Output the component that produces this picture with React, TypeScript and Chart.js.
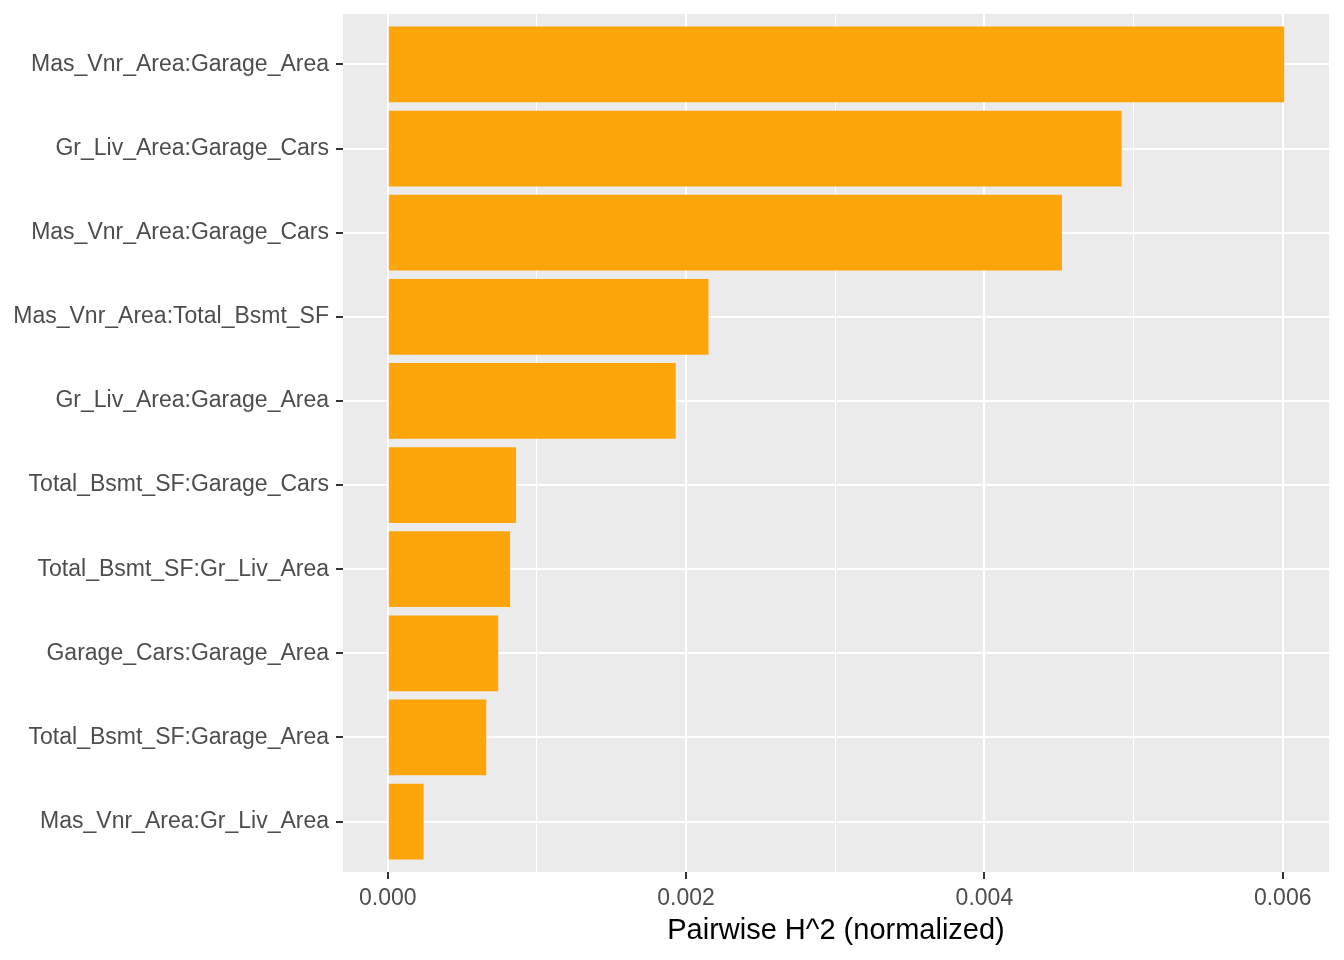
import { useEffect, useRef } from 'react'
import { Chart, registerables } from 'chart.js'

Chart.register(...registerables)

const pairs = [
  'Mas_Vnr_Area:Garage_Area',
  'Gr_Liv_Area:Garage_Cars',
  'Mas_Vnr_Area:Garage_Cars',
  'Mas_Vnr_Area:Total_Bsmt_SF',
  'Gr_Liv_Area:Garage_Area',
  'Total_Bsmt_SF:Garage_Cars',
  'Total_Bsmt_SF:Gr_Liv_Area',
  'Garage_Cars:Garage_Area',
  'Total_Bsmt_SF:Garage_Area',
  'Mas_Vnr_Area:Gr_Liv_Area'
]
const hValues = [0.00601, 0.00492, 0.00452, 0.00215, 0.00193, 0.00086, 0.00082, 0.00074, 0.00066, 0.00024]
const xTicks = [0, 0.001, 0.002, 0.003, 0.004, 0.005, 0.006]
const xTitle = 'Pairwise H^2 (normalized)'

const FONT = "'Liberation Sans', Arial, sans-serif"
const BAR = '#FDA50B'
const PANEL = '#EBEBEB'

// ggplot-style grey panel behind the grid
const panelBg = {
  id: 'panelBg',
  beforeDraw(chart: Chart) {
    const { ctx, chartArea: a } = chart
    ctx.save()
    ctx.fillStyle = '#ffffff'
    ctx.fillRect(0, 0, chart.width, chart.height)
    ctx.fillStyle = PANEL
    ctx.fillRect(a.left, a.top, a.right - a.left, a.bottom - a.top)
    ctx.restore()
  }
}

export default function App() {
  const canvasRef = useRef<HTMLCanvasElement>(null)
  const chartRef = useRef<Chart | null>(null)

  useEffect(() => {
    document.body.style.margin = '0'
    if (!canvasRef.current) return

    const maxVal = Math.max(...hValues)
    const isMajor = (i: number) => i % 2 === 0

    const config: any = {
      type: 'bar',
      data: {
        datasets: [
          {
            data: hValues.map((v, i) => ({ x: v, y: i + 1 })),
            backgroundColor: BAR,
            borderWidth: 0,
            barPercentage: 0.9,
            categoryPercentage: 1.0
          }
        ]
      },
      plugins: [panelBg],
      options: {
        indexAxis: 'y',
        responsive: false,
        animation: false,
        layout: { padding: { top: 14, right: 15, left: 0, bottom: 0 } },
        plugins: {
          legend: { display: false },
          tooltip: { enabled: false },
          title: { display: false }
        },
        scales: {
          y: {
            type: 'linear',
            reverse: true,
            offset: false,
            min: 0.4,
            max: 10.6,
            afterBuildTicks: (scale: any) => {
              scale.ticks = pairs.map((_, i) => ({ value: i + 1 }))
            },
            afterFit: (scale: any) => {
              scale.width = 343
              scale.paddingTop = 0
              scale.paddingBottom = 0
            },
            border: { display: false },
            grid: {
              offset: false,
              color: '#ffffff',
              lineWidth: 2,
              tickColor: '#333333',
              tickLength: 7,
              tickWidth: 2
            },
            ticks: {
              autoSkip: false,
              color: '#4D4D4D',
              padding: 7,
              font: { family: FONT, size: 23 },
              callback: (value: number) => pairs[Math.round(value) - 1]
            }
          },
          x: {
            type: 'linear',
            min: -0.05 * maxVal,
            max: 1.05 * maxVal,
            afterBuildTicks: (scale: any) => {
              scale.ticks = xTicks.map(v => ({ value: v }))
            },
            afterFit: (scale: any) => {
              scale.height = 88
            },
            border: { display: false },
            grid: {
              color: '#ffffff',
              lineWidth: (ctx: any) => (isMajor(ctx.index) ? 2 : 1),
              tickColor: (ctx: any) => (isMajor(ctx.index) ? '#333333' : 'rgba(0,0,0,0)'),
              tickLength: 7,
              tickWidth: 2
            },
            ticks: {
              autoSkip: false,
              maxRotation: 0,
              color: '#4D4D4D',
              padding: 6,
              font: { family: FONT, size: 23 },
              callback: (value: number, index: number) => (isMajor(index) ? value.toFixed(3) : '')
            },
            title: {
              display: true,
              text: xTitle,
              color: '#000000',
              font: { family: FONT, size: 29 },
              padding: { top: 0, bottom: 12 }
            }
          }
        }
      }
    }

    if (chartRef.current) chartRef.current.destroy()
    chartRef.current = new Chart(canvasRef.current, config)

    return () => {
      if (chartRef.current) {
        chartRef.current.destroy()
        chartRef.current = null
      }
    }
  }, [])

  return (
    <div style={{ width: 1344, height: 960 }}>
      <canvas ref={canvasRef} width={1344} height={960} style={{ display: 'block' }} />
    </div>
  )
}
